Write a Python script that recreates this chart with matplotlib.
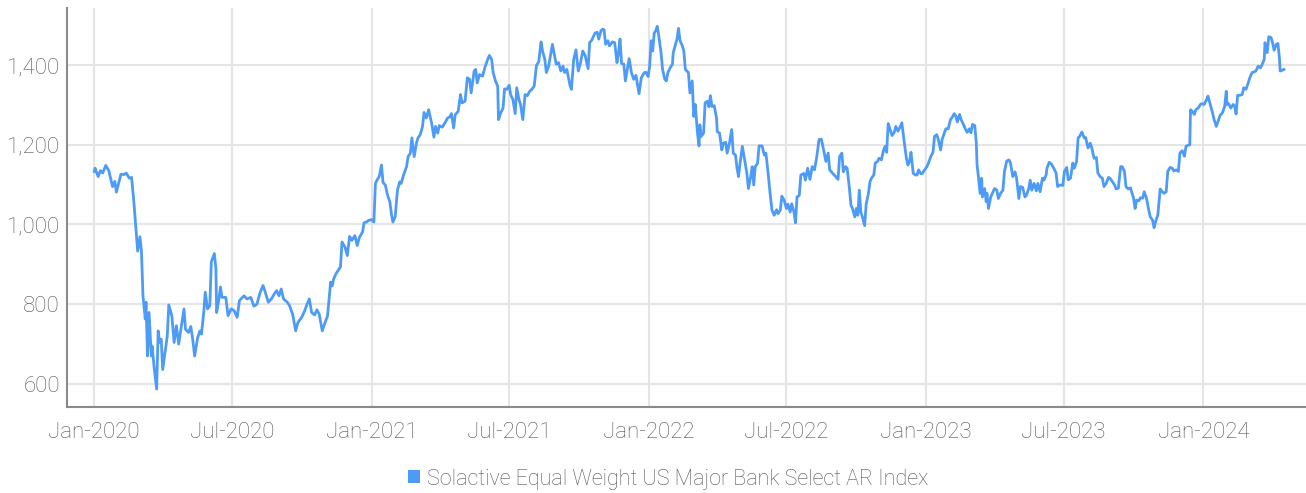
import numpy as np
import pandas as pd
import matplotlib
matplotlib.use("Agg")
import matplotlib.pyplot as plt
import matplotlib.dates as mdates
from matplotlib.patches import Patch
from matplotlib.ticker import FuncFormatter

plt.rcParams['font.family'] = ['Roboto', 'DejaVu Sans']

START = pd.Timestamp("2020-01-01")
SERIES_NAME = "Solactive Equal Weight US Major Bank Select AR Index"

# (days since 2020-01-01, index level)
obs_2020 = [(1, 1133), (2, 1141), (6, 1120), (9, 1135), (12, 1129), (16, 1148), (20, 1135), (25, 1095),
            (28, 1108), (30, 1081), (33, 1104), (36, 1126), (40, 1125), (43, 1129), (47, 1116), (50, 1118),
            (53, 1057), (55, 1007), (58, 933), (61, 969), (63, 933), (65, 822), (68, 763), (69, 805),
            (71, 670), (73, 779), (76, 670), (77, 695), (80, 636), (83, 587), (85, 733), (87, 704),
            (89, 712), (91, 636), (94, 678), (97, 720), (99, 798), (103, 771), (106, 704), (109, 746),
            (112, 700), (115, 737), (119, 788), (121, 737), (125, 729), (128, 744), (131, 704), (133, 670),
            (137, 716), (140, 733), (142, 725), (145, 779), (147, 830), (150, 788), (153, 796), (155, 906),
            (159, 927), (161, 889), (162, 779), (165, 813), (167, 843), (169, 817), (174, 817), (177, 771),
            (181, 788), (185, 784), (189, 767), (192, 809), (198, 821), (202, 813), (207, 817), (211, 795),
            (215, 800), (219, 828), (223, 847), (226, 830), (230, 805), (234, 813), (238, 826), (241, 834),
            (244, 821), (247, 838), (250, 813), (255, 805), (258, 796), (262, 775), (266, 733), (269, 754),
            (274, 767), (278, 784), (281, 800), (284, 813), (287, 779), (291, 773), (294, 786), (297, 775),
            (301, 733), (304, 750), (308, 771), (312, 855), (314, 846), (316, 863), (319, 876), (323, 888),
            (325, 893), (327, 956), (331, 943), (334, 922), (337, 970), (340, 960), (344, 972), (347, 947),
            (350, 968), (354, 981), (356, 1004), (359, 1006), (362, 1010)]

obs_2021 = [(366, 1012), (369, 1006), (371, 1103), (373, 1111), (376, 1120), (379, 1149), (381, 1105),
            (384, 1099), (387, 1073), (390, 1057), (392, 1027), (394, 1006), (397, 1019), (400, 1086),
            (403, 1107), (405, 1103), (408, 1124), (412, 1145), (414, 1170), (417, 1179), (419, 1217),
            (422, 1170), (425, 1204), (427, 1217), (430, 1225), (433, 1246), (435, 1281), (438, 1267),
            (441, 1288), (445, 1254), (448, 1219), (450, 1246), (453, 1229), (455, 1248), (459, 1244),
            (462, 1253), (466, 1267), (469, 1270), (471, 1278), (474, 1242), (476, 1275), (480, 1284),
            (483, 1326), (485, 1305), (489, 1309), (492, 1368), (495, 1364), (497, 1330), (501, 1385),
            (503, 1389), (505, 1355), (508, 1376), (512, 1372), (515, 1393), (518, 1410), (521, 1424),
            (524, 1414), (526, 1381), (529, 1360), (532, 1347), (533, 1263), (536, 1280), (539, 1292),
            (541, 1340), (544, 1339), (547, 1349), (549, 1326), (552, 1313), (555, 1278), (557, 1343),
            (560, 1313), (562, 1301), (565, 1263), (568, 1326), (571, 1323), (574, 1334), (577, 1339),
            (580, 1347), (583, 1399), (586, 1408), (589, 1458), (591, 1435), (594, 1414), (596, 1381),
            (599, 1397), (604, 1452), (606, 1431), (609, 1402), (612, 1406), (615, 1385), (618, 1397),
            (620, 1381), (623, 1389), (627, 1350), (629, 1339), (632, 1414), (635, 1438), (638, 1385),
            (641, 1406), (644, 1435), (647, 1424), (651, 1391), (653, 1456), (656, 1463), (660, 1480),
            (663, 1482), (665, 1465), (668, 1486), (670, 1490), (672, 1488), (674, 1452), (677, 1461),
            (679, 1448), (683, 1458), (686, 1456), (689, 1406), (691, 1431), (693, 1465), (695, 1404),
            (698, 1402), (700, 1360), (703, 1393), (705, 1416), (708, 1381), (711, 1364), (714, 1374),
            (718, 1328), (721, 1368), (725, 1381), (727, 1382), (730, 1371)]

obs_2022 = [(732, 1397), (734, 1461), (736, 1435), (738, 1480), (740, 1486), (742, 1497), (744, 1473),
            (747, 1431), (749, 1389), (752, 1364), (754, 1360), (756, 1381), (759, 1393), (762, 1402),
            (763, 1431), (766, 1452), (768, 1465), (770, 1492), (772, 1461), (775, 1448), (777, 1435),
            (779, 1389), (783, 1381), (785, 1330), (788, 1360), (790, 1271), (792, 1301), (795, 1229),
            (797, 1197), (798, 1250), (800, 1221), (803, 1229), (805, 1305), (808, 1309), (810, 1295),
            (812, 1323), (814, 1296), (817, 1298), (820, 1267), (821, 1233), (824, 1229), (827, 1187),
            (829, 1204), (832, 1206), (834, 1179), (837, 1204), (840, 1238), (842, 1179), (845, 1174),
            (847, 1141), (849, 1120), (851, 1153), (854, 1196), (857, 1162), (860, 1128), (862, 1090),
            (865, 1120), (867, 1145), (869, 1099), (871, 1145), (874, 1153), (876, 1197), (880, 1197),
            (883, 1174), (885, 1179), (888, 1128), (891, 1069), (893, 1036), (896, 1023), (899, 1037),
            (901, 1027), (904, 1036), (906, 1071), (909, 1061), (912, 1040), (914, 1051), (917, 1031),
            (919, 1052), (922, 1031), (924, 1004), (926, 1069), (929, 1073), (931, 1124), (935, 1128),
            (937, 1111), (940, 1141), (943, 1113), (946, 1145), (949, 1137), (952, 1170), (955, 1213),
            (958, 1214), (961, 1187), (964, 1158), (967, 1179), (969, 1137), (973, 1128), (976, 1122),
            (980, 1113), (982, 1170), (985, 1179), (987, 1132), (990, 1145), (992, 1141), (995, 1090),
            (997, 1048), (999, 1040), (1002, 1019), (1004, 1040), (1006, 1023), (1008, 1086), (1010, 1031),
            (1012, 1019), (1015, 997), (1017, 1051), (1020, 1078), (1022, 1107), (1024, 1116), (1027, 1124),
            (1029, 1154), (1032, 1158), (1034, 1166), (1037, 1162), (1040, 1187), (1042, 1196), (1044, 1181),
            (1046, 1253), (1048, 1242), (1051, 1223), (1054, 1231), (1056, 1246), (1059, 1234), (1062, 1246),
            (1064, 1255), (1067, 1208), (1070, 1166), (1072, 1149), (1074, 1158), (1076, 1181), (1079, 1128),
            (1082, 1124), (1084, 1124), (1086, 1137), (1089, 1127), (1091, 1128), (1094, 1137)]

obs_2023 = [(1097, 1145), (1099, 1154), (1102, 1170), (1105, 1181), (1107, 1221), (1110, 1225), (1112, 1213),
            (1115, 1187), (1117, 1213), (1120, 1230), (1122, 1240), (1125, 1240), (1128, 1263), (1130, 1268),
            (1133, 1278), (1135, 1272), (1137, 1257), (1140, 1276), (1142, 1263), (1145, 1251), (1148, 1238),
            (1150, 1231), (1153, 1240), (1155, 1230), (1157, 1251), (1160, 1248), (1162, 1204), (1163, 1149),
            (1165, 1116), (1167, 1078), (1169, 1116), (1170, 1069), (1173, 1090), (1175, 1057), (1176, 1078),
            (1178, 1040), (1181, 1069), (1184, 1082), (1186, 1090), (1189, 1086), (1191, 1065), (1194, 1078),
            (1197, 1086), (1199, 1132), (1202, 1159), (1205, 1162), (1207, 1154), (1210, 1120), (1213, 1132),
            (1215, 1116), (1218, 1065), (1220, 1095), (1223, 1093), (1226, 1069), (1228, 1073), (1231, 1090),
            (1233, 1111), (1235, 1086), (1238, 1103), (1241, 1084), (1243, 1103), (1246, 1082), (1249, 1116),
            (1251, 1111), (1254, 1125), (1255, 1141), (1258, 1156), (1261, 1151), (1264, 1141), (1267, 1129),
            (1269, 1095), (1272, 1099), (1276, 1098), (1278, 1133), (1281, 1143), (1283, 1112), (1286, 1116),
            (1289, 1154), (1291, 1141), (1294, 1158), (1296, 1217), (1298, 1221), (1301, 1232), (1304, 1217),
            (1306, 1218), (1309, 1192), (1312, 1204), (1314, 1192), (1317, 1166), (1320, 1168), (1322, 1129),
            (1325, 1120), (1328, 1116), (1330, 1095), (1333, 1103), (1336, 1118), (1338, 1116), (1341, 1108),
            (1344, 1099), (1346, 1089), (1349, 1091), (1352, 1145), (1354, 1145), (1357, 1133), (1359, 1095),
            (1362, 1089), (1365, 1092), (1367, 1078), (1369, 1066), (1371, 1040), (1373, 1061), (1376, 1059),
            (1378, 1067), (1381, 1066), (1383, 1082), (1386, 1066), (1389, 1036), (1391, 1019), (1394, 1011),
            (1396, 992), (1398, 1007), (1401, 1024), (1404, 1089), (1406, 1084), (1409, 1078), (1412, 1082),
            (1414, 1133), (1417, 1143), (1420, 1141), (1422, 1134), (1425, 1137), (1428, 1133), (1430, 1179),
            (1433, 1185), (1436, 1171), (1438, 1196), (1440, 1198), (1443, 1200), (1444, 1288), (1446, 1284),
            (1449, 1276), (1451, 1288), (1454, 1292), (1457, 1301), (1459, 1303)]

obs_2024 = [(1462, 1301), (1465, 1313), (1467, 1322), (1470, 1301), (1473, 1280), (1475, 1263), (1478, 1246),
            (1481, 1263), (1483, 1274), (1486, 1280), (1489, 1297), (1491, 1334), (1492, 1301), (1494, 1303),
            (1497, 1292), (1500, 1301), (1502, 1297), (1504, 1277), (1506, 1324), (1509, 1324), (1512, 1326),
            (1514, 1343), (1517, 1339), (1520, 1355), (1522, 1368), (1525, 1381), (1528, 1383), (1530, 1385),
            (1533, 1397), (1536, 1393), (1538, 1400), (1541, 1414), (1542, 1456), (1545, 1431), (1547, 1471),
            (1550, 1469), (1552, 1456), (1554, 1437), (1557, 1452), (1559, 1454), (1561, 1418), (1562, 1385),
            (1565, 1387), (1567, 1389)]

y_ticks = [600, 800, 1000, 1200, 1400]
x_ticks = ["2020-01-01", "2020-07-01", "2021-01-01", "2021-07-01", "2022-01-01",
           "2022-07-01", "2023-01-01", "2023-07-01", "2024-01-01"]

LINE = "#4d9bf7"
GRID = "#e5e5e5"
AXIS = "#8a8a8a"
TEXT = "#555555"

obs = np.array(obs_2020 + obs_2021 + obs_2022 + obs_2023 + obs_2024)
dates = START + pd.to_timedelta(obs[:, 0], unit="D")
levels = obs[:, 1]

fig = plt.figure(figsize=(13.06, 4.93), dpi=100)
ax = fig.add_axes([67 / 1306, 1 - 407 / 493, 1 - 67 / 1306, 399 / 493])

ax.plot(dates, levels, color=LINE, linewidth=2.0, solid_joinstyle="round", zorder=3)

ax.set_ylim(542, 1543)
ax.set_xlim(pd.Timestamp("2019-11-27"), pd.Timestamp("2024-05-15"))
ax.set_yticks(y_ticks)
ax.yaxis.set_major_formatter(FuncFormatter(lambda v, p: f"{v:,.0f}"))
ax.set_xticks(pd.to_datetime(x_ticks))
ax.xaxis.set_major_formatter(mdates.DateFormatter("%b-%Y"))

ax.grid(True, color=GRID, linewidth=1.5)
ax.set_axisbelow(True)
for side in ("top", "right"):
    ax.spines[side].set_visible(False)
for side in ("left", "bottom"):
    ax.spines[side].set_color(AXIS)
    ax.spines[side].set_linewidth(1.5)

ax.tick_params(axis="both", length=0, labelsize=16, labelcolor=TEXT)
ax.tick_params(axis="y", pad=5)
ax.tick_params(axis="x", pad=11)
for lbl in ax.get_xticklabels() + ax.get_yticklabels():
    lbl.set_fontweight("light")

handle = Patch(facecolor=LINE, edgecolor="none")
fig.legend([handle], [SERIES_NAME], loc="center", bbox_to_anchor=(668 / 1306, 1 - 479 / 493),
           frameon=False, handlelength=0.55, handleheight=0.55, handletextpad=0.3,
           prop={"size": 15.5, "weight": "light"}, labelcolor=TEXT)

fig.savefig("out.png", dpi=100)
